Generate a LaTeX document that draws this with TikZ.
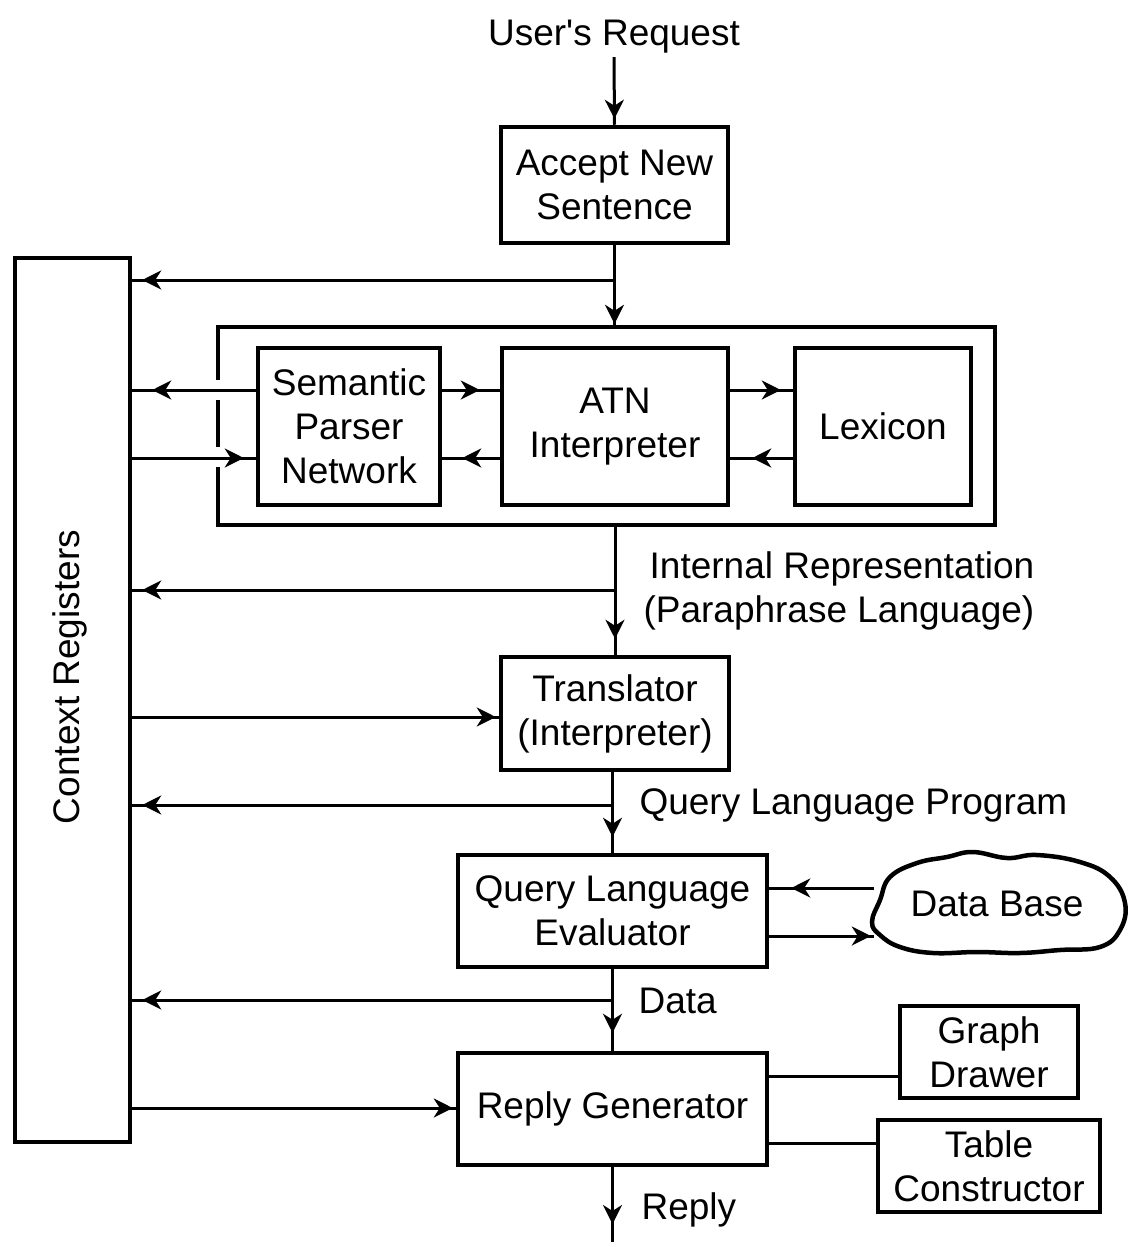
\documentclass[tikz,border=0pt]{standalone}
\usepackage{fontspec}
\setmainfont{Liberation Sans}
\usetikzlibrary{arrows.meta,decorations.markings}
\begin{document}
\begin{tikzpicture}[x=1pt,y=-1pt,
  txt/.style={font=\fontsize{37}{44}\selectfont},
  box/.style={draw,line width=4.5pt,inner sep=0pt,align=center,txt},
  conn/.style={line width=3pt},
  tipat/.style={postaction={decorate},decoration={markings,mark=at position #1 with {\arrow{Stealth[length=19pt,width=19pt,inset=6pt]}}}}]
\useasboundingbox[fill=white] (0,0) rectangle (1128,1247);

% nodes
\node[txt] (req) at (614,37) {User\textquotesingle s Request};
\node[box,minimum width=227pt,minimum height=116pt] (accept) at (614.5,185) {Accept New\\Sentence};
\node[box,minimum width=115pt,minimum height=884pt] (ctx) at (72.5,700) {};
\node[txt,rotate=90] (ctxlabel) at (70,677) {Context Registers};
\node[minimum width=777pt,minimum height=198pt,inner sep=0pt] (outer) at (606.5,426) {};
\node[box,minimum width=182pt,minimum height=157pt] (sem) at (349,426.5) {Semantic\\Parser\\Network};
\node[box,minimum width=226pt,minimum height=157pt] (atn) at (615,426.5) {ATN\\Interpreter};
\node[box,minimum width=176pt,minimum height=157pt] (lex) at (883,426.5) {Lexicon};
\node[box,minimum width=228pt,minimum height=113pt] (trans) at (615,713.5) {Translator\\(Interpreter)};
\node[box,minimum width=309pt,minimum height=112pt] (qle) at (612.5,911) {Query Language\\Evaluator};
\node[box,minimum width=309pt,minimum height=112pt] (reply) at (612.5,1109) {Reply Generator};
\node[box,minimum width=178pt,minimum height=92pt] (graph) at (989,1052) {Graph\\Drawer};
\node[box,minimum width=222pt,minimum height=92pt] (table) at (989,1166) {Table\\Constructor};
\node[txt,minimum width=246pt,minimum height=90pt,inner sep=0pt] (db) at (997,904) {Data Base};

% labels
\node[txt,align=left,anchor=west] (lbl1) at (640,591) {\,Internal Representation\\(Paraphrase Language)};
\node[txt,anchor=west] (lbl2) at (636,805) {Query Language Program};
\node[txt,anchor=west] (lbl3) at (635,1001) {Data};
\node[txt,anchor=west] (lbl4) at (638,1210) {Reply};

% outer box with gaps
\draw[line width=4.5pt] (outer.west |- 0,380) -- (outer.north west) -- (outer.north east) -- (outer.south east) -- (outer.south west) -- (outer.west |- 0,467);
\draw[line width=4.5pt] (outer.west |- 0,400) -- (outer.west |- 0,447);

% cloud
\draw[line width=4.5pt] plot[smooth cycle,tension=0.7] coordinates {
 (872,922) (880,900) (890,877) (917,863) (947,857) (973,852) (1007,858) (1037,855)
 (1080,862) (1110,877) (1125,903) (1120,930) (1100,947) (1060,950) (1020,953)
 (977,952) (933,953) (900,947) (880,935)};

% main flow
\draw[conn,tipat=-6pt] (req.south) -- (accept.north);
\draw[conn,tipat=-3pt] (accept.south) -- (accept.south |- outer.north);
\coordinate (b1) at (accept.south |- 0,280);
\draw[conn,tipat=-10pt] (b1) -- (ctx.east |- b1);

\draw[conn,tipat=-16pt] (outer.south -| trans.north) -- (trans.north);
\coordinate (b2) at (trans.north |- 0,590);
\draw[conn,tipat=-10pt] (b2) -- (ctx.east |- b2);
\draw[conn,tipat=-3pt] (ctx.east |- 0,717) -- (trans.west |- 0,717);

\draw[conn,tipat=-16pt] (trans.south -| qle.north) -- (qle.north);
\coordinate (b3) at (qle.north |- 0,805);
\draw[conn,tipat=-10pt] (b3) -- (ctx.east |- b3);

\draw[conn,tipat=-18pt] (qle.south) -- (reply.north);
\coordinate (b4) at (reply.north |- 0,1000);
\draw[conn,tipat=-10pt] (b4) -- (ctx.east |- b4);
\draw[conn,tipat=-3pt] (ctx.east |- 0,1108) -- (reply.west |- 0,1108);

\coordinate (out) at (612.5,1242);
\draw[conn,tipat=-18pt] (reply.south) -- (out);

% parser block
\draw[conn,tipat=-20pt] (sem.west |- 0,390) -- (ctx.east |- 0,390);
\draw[conn,tipat=-12pt] (ctx.east |- 0,458) -- (sem.west |- 0,458);
\draw[conn,tipat=-20pt] (sem.east |- 0,390) -- (atn.west |- 0,390);
\draw[conn,tipat=-20pt] (atn.west |- 0,458) -- (sem.east |- 0,458);
\draw[conn,tipat=-12pt] (atn.east |- 0,390) -- (lex.west |- 0,390);
\draw[conn,tipat=-22pt] (lex.west |- 0,458) -- (atn.east |- 0,458);

% data base
\draw[conn,tipat=-22pt] (db.west |- 0,888) -- (qle.east |- 0,888);
\draw[conn,tipat=-3pt] (qle.east |- 0,936) -- (db.west |- 0,936);

% output modules
\draw[conn] (reply.east |- 0,1076) -- (graph.west |- 0,1076);
\draw[conn] (reply.east |- 0,1143) -- (table.west |- 0,1143);
\end{tikzpicture}
\end{document}
